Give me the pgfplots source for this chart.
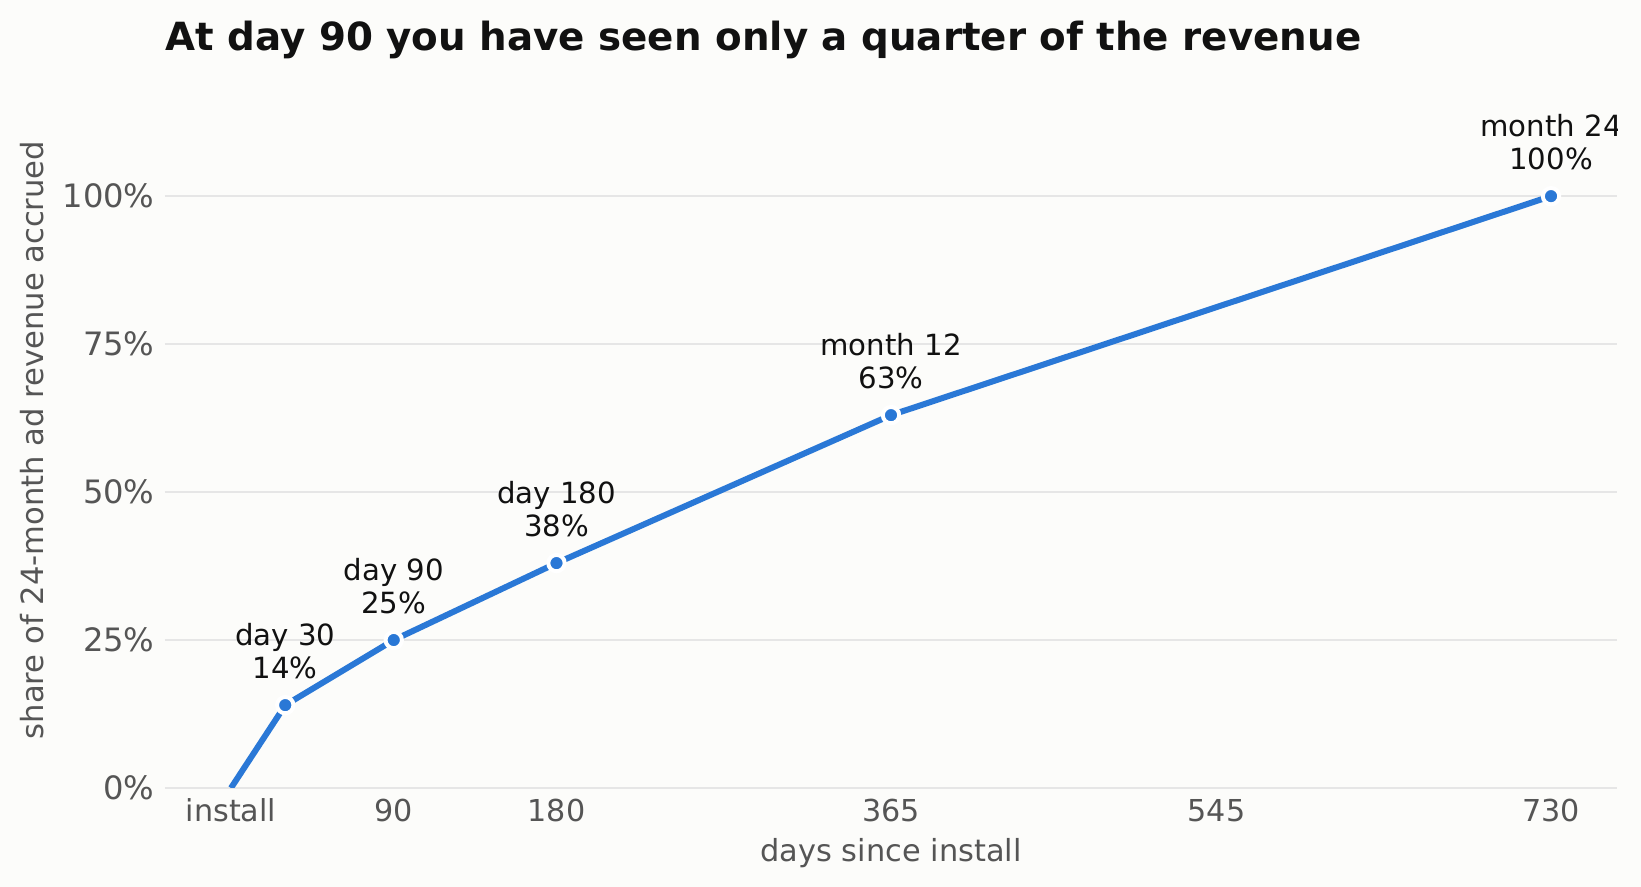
\documentclass[border=0pt]{standalone}
\usepackage{pgfplots}
\pgfplotsset{compat=1.18}
\usepackage{fontspec}
\setmainfont{DejaVu Sans}
\definecolor{bg}{HTML}{FCFCFA}
\definecolor{lineblue}{HTML}{2A78D6}
\definecolor{gridgray}{HTML}{E6E6E6}
\definecolor{ticktext}{HTML}{555555}
\definecolor{annot}{HTML}{111111}
\newcommand{\annotfont}{\fontsize{14.6}{17}\selectfont}
\begin{document}
\begin{tikzpicture}
\fill[bg] (-82.5pt,-49.5pt) rectangle (738pt,394pt);
\begin{axis}[
  at={(0,0)}, anchor=south west,
  scale only axis, width=726pt, height=348pt,
  xmin=-36.5, xmax=766.5, ymin=0, ymax=117.6,
  axis line style={draw=none}, tick style={draw=none},
  major tick length=0pt,
  xtick={0,90,180,365,545,730},
  xticklabels={install,90,180,365,545,730},
  ytick={0,25,50,75,100},
  yticklabel={\pgfmathprintnumber{\tick}\%},
  ymajorgrids, grid style={gridgray, line width=1.2pt},
  /pgf/number format/assume math mode=true,
  xticklabel style={font=\fontsize{15.1}{18}\selectfont, text=ticktext, anchor=base, inner sep=0pt, yshift=-17pt},
  yticklabel style={font=\fontsize{16.1}{19}\selectfont, text=ticktext, anchor=east, inner sep=0pt, xshift=-5pt},
  xlabel={days since install},
  ylabel={share of 24-month ad revenue accrued},
  xlabel style={at={(axis description cs:0.5,-0.1063)}, anchor=base, inner sep=0pt, font=\fontsize{15.2}{18}\selectfont, text=ticktext},
  ylabel style={at={(axis description cs:-0.084,0.5)}, anchor=base, inner sep=0pt, font=\fontsize{15.3}{18}\selectfont, text=ticktext},
]
\addplot[lineblue, line width=3pt, line join=round,
  mark=*, mark indices={2,3,4,5,6}, mark size=4.1pt,
  mark options={fill=lineblue, draw=white, line width=2pt}]
  coordinates {(0,0) (30,14) (90,25) (180,38) (365,63) (730,100)};
\node[anchor=base, yshift=13.5pt, font=\annotfont, text=annot] at (axis cs:30,14) {14\%};
\node[anchor=base, yshift=29.8pt, font=\annotfont, text=annot] at (axis cs:30,14) {day 30};
\node[anchor=base, yshift=13.5pt, font=\annotfont, text=annot] at (axis cs:90,25) {25\%};
\node[anchor=base, yshift=29.8pt, font=\annotfont, text=annot] at (axis cs:90,25) {day 90};
\node[anchor=base, yshift=13.5pt, font=\annotfont, text=annot] at (axis cs:180,38) {38\%};
\node[anchor=base, yshift=29.8pt, font=\annotfont, text=annot] at (axis cs:180,38) {day 180};
\node[anchor=base, yshift=13.5pt, font=\annotfont, text=annot] at (axis cs:365,63) {63\%};
\node[anchor=base, yshift=29.8pt, font=\annotfont, text=annot] at (axis cs:365,63) {month 12};
\node[anchor=base, yshift=13.5pt, font=\annotfont, text=annot] at (axis cs:730,100) {100\%};
\node[anchor=base, yshift=29.8pt, font=\annotfont, text=annot] at (axis cs:730,100) {month 24};
\end{axis}
\node[anchor=base west, inner sep=0pt, font=\fontsize{19.4}{23}\selectfont\bfseries, text=annot] at (0pt,368.5pt) {At day 90 you have seen only a quarter of the revenue};
\pgfresetboundingbox
\useasboundingbox (-82.5pt,-49.5pt) rectangle (738pt,394pt);
\end{tikzpicture}
\end{document}
